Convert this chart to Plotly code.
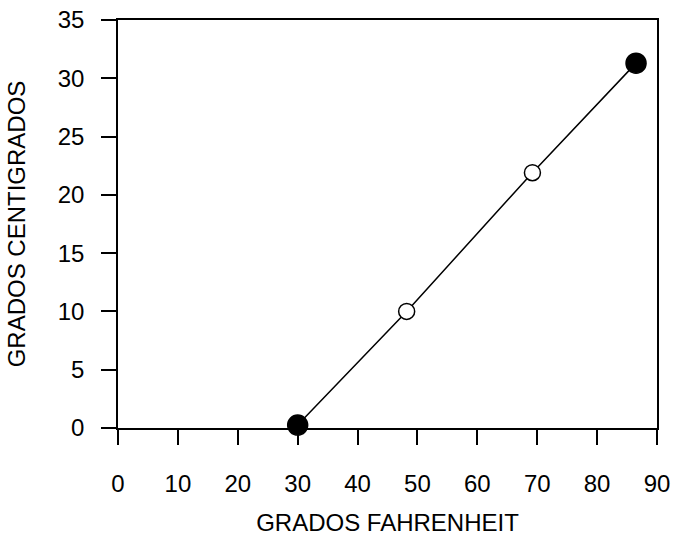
import plotly.graph_objects as go

fahrenheit = [30, 48.2, 69.2, 86.5]
centigrados = [0.25, 10, 21.9, 31.3]
marker_fill = ["black", "white", "white", "black"]
marker_size = [20, 16, 16, 20]

x_ticks = [0, 10, 20, 30, 40, 50, 60, 70, 80, 90]
y_ticks = [0, 5, 10, 15, 20, 25, 30, 35]

fig = go.Figure()
fig.add_trace(go.Scatter(
    x=fahrenheit, y=centigrados, mode="lines+markers",
    line=dict(color="black", width=1.5),
    marker=dict(color=marker_fill, size=marker_size, opacity=1,
                line=dict(color="black", width=1.5)),
    cliponaxis=False, showlegend=False, hoverinfo="skip",
))

font = dict(family="Liberation Sans, Arial, sans-serif", color="black")
fig.update_layout(
    width=675, height=536,
    margin=dict(l=118, r=18, t=20, b=108),
    paper_bgcolor="white", plot_bgcolor="white",
    font=dict(**font, size=24),
    xaxis=dict(range=[0, 90], tickvals=x_ticks, ticks="outside", ticklen=15,
               tickwidth=1.5, tickcolor="black", showline=True, linecolor="black",
               linewidth=1.5, mirror=True, showgrid=False, zeroline=False,
               tickfont=dict(size=24), ticklabelstandoff=18, automargin=False,
               title=dict(text="GRADOS FAHRENHEIT", font=dict(size=24), standoff=22)),
    yaxis=dict(range=[0, 35], tickvals=y_ticks, ticks="outside", ticklen=15,
               tickwidth=1.5, tickcolor="black", showline=True, linecolor="black",
               linewidth=1.5, mirror=True, showgrid=False, zeroline=False,
               tickfont=dict(size=24), ticklabelstandoff=12, automargin=False,
               title=dict(text="GRADOS CENTIGRADOS", font=dict(size=24), standoff=25)),
)
fig.write_html("out.html", config={"displayModeBar": False},
               post_script="document.body.style.margin='0';")
